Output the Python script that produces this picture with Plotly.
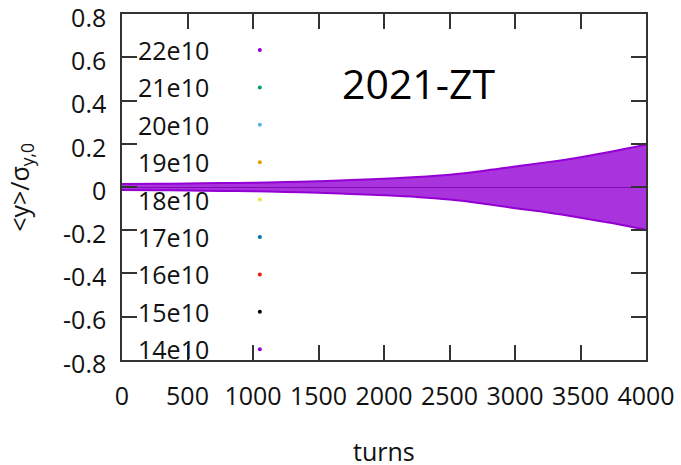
import plotly.graph_objects as go

# ---- data ----
series_names = ["22e10", "21e10", "20e10", "19e10", "18e10", "17e10", "16e10", "15e10", "14e10"]
series_colors = ["#9400d3", "#009e73", "#56b4e9", "#e69f00", "#f0e442",
                 "#0072b2", "#e51e10", "#000000", "#9400d3"]

# envelope of the oscillating <y>/sigma signal (all bunch intensities overlap)
env_turns = [0, 250, 500, 750, 1000, 1250, 1500, 1750, 2000, 2250, 2500,
             2750, 3000, 3250, 3500, 3750, 4000]
env_upper = [0.014, 0.015, 0.016, 0.018, 0.020, 0.023, 0.027, 0.032, 0.038,
             0.046, 0.057, 0.074, 0.095, 0.115, 0.138, 0.165, 0.195]
env_lower = [-0.014, -0.015, -0.016, -0.018, -0.020, -0.023, -0.027, -0.032, -0.038,
             -0.046, -0.058, -0.076, -0.098, -0.118, -0.142, -0.168, -0.198]

x_ticks = [0, 500, 1000, 1500, 2000, 2500, 3000, 3500, 4000]
y_ticks = [-0.8, -0.6, -0.4, -0.2, 0, 0.2, 0.4, 0.6, 0.8]
y_ticklabels = ["-0.8", "-0.6", "-0.4", "-0.2", "0", "0.2", "0.4", "0.6", "0.8"]

PURPLE = "#9400d3"
FONT = "Open Sans"

fig = go.Figure()

fig.add_trace(go.Scatter(x=env_turns, y=env_upper, mode="lines",
                         line=dict(color=PURPLE, width=2, shape="spline"), showlegend=False,
                         hoverinfo="skip"))
fig.add_trace(go.Scatter(x=env_turns, y=env_lower, mode="lines",
                         line=dict(color=PURPLE, width=2, shape="spline"), fill="tonexty",
                         fillcolor="rgba(148,0,211,0.8)", showlegend=False,
                         hoverinfo="skip"))

# manual gnuplot-style key: label on the left, dot on the right
key_top = 0.896
key_step = 0.1081
key_text_x = 0.026
key_dot_x = 0.263
key_y = [key_top - i * key_step for i in range(len(series_names))]
fig.add_trace(go.Scatter(x=[key_dot_x] * len(series_names), y=key_y,
                         xaxis="x2", yaxis="y2", mode="markers",
                         marker=dict(color=series_colors, size=4),
                         showlegend=False, hoverinfo="skip"))
for name, yy in zip(series_names, key_y):
    fig.add_annotation(x=key_text_x, y=yy, xref="paper", yref="paper",
                       text=name, showarrow=False, xanchor="left", yanchor="middle",
                       font=dict(family=FONT, size=25, color="#111"))

fig.add_annotation(x=0.565, y=0.80, xref="paper", yref="paper", text="2021-ZT",
                   showarrow=False, xanchor="center", yanchor="middle",
                   font=dict(family=FONT, size=41, color="#000"))

# axis titles
fig.add_annotation(x=0.5, y=-0.263, xref="paper", yref="paper", text="turns",
                   showarrow=False, xanchor="center", yanchor="middle",
                   font=dict(family=FONT, size=25, color="#111"))
fig.add_annotation(x=-0.195, y=0.5, xref="paper", yref="paper",
                   text="&lt;y&gt;/σ<sub>y,0</sub>", textangle=-90,
                   showarrow=False, xanchor="center", yanchor="middle",
                   font=dict(family=FONT, size=25, color="#111"))

axis_common = dict(showline=True, linecolor="#333", linewidth=1.5, mirror="ticks",
                   ticks="inside", ticklen=15, tickwidth=1.5, tickcolor="#333",
                   showgrid=False, automargin=False, ticklabeloverflow="allow",
                   tickfont=dict(family=FONT, size=25, color="#111"))

fig.update_layout(
    width=681, height=465,
    margin=dict(l=122, r=35, t=14, b=105),
    paper_bgcolor="white", plot_bgcolor="white",
    xaxis=dict(range=[0, 4000], tickvals=x_ticks, zeroline=False,
               ticklabelstandoff=13, **axis_common),
    yaxis=dict(range=[-0.8001, 0.8001], tickvals=y_ticks, ticktext=y_ticklabels,
               zeroline=True, zerolinecolor="#333", zerolinewidth=1,
               layer="above traces", ticklabelstandoff=9, ticklabelshift=4,
               **axis_common),
    xaxis2=dict(range=[0, 1], overlaying="x", visible=False),
    yaxis2=dict(range=[0, 1], overlaying="y", visible=False),
    showlegend=False,
)

fig.write_html("out.html")
